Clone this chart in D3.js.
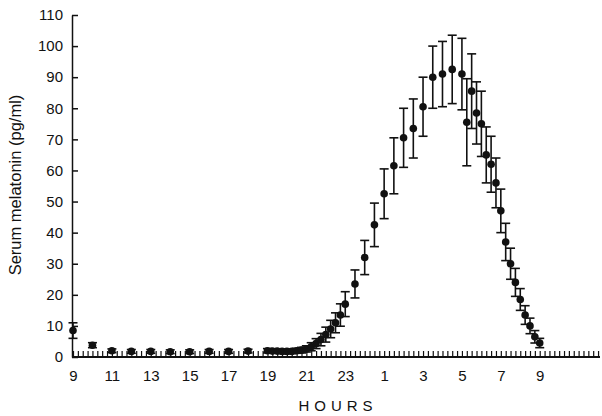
<!DOCTYPE html>
<html>
<head>
<meta charset="utf-8">
<script src="https://cdn.jsdelivr.net/npm/d3@7"></script>
<style>
  body { margin: 0; background: #fff; }
  text { font-family: "Liberation Sans", Arial, sans-serif; fill: #111; }
</style>
</head>
<body>
<div id="chart"></div>
<script>
// hours after 09:00 (day 1) -> 24 = 09:00 next day
const sampleHours = [0, 1, 2, 3, 4, 5, 6, 7, 8, 9,
  10, 10.25, 10.5, 10.75, 11, 11.25, 11.5, 11.75, 12, 12.25, 12.5, 12.75, 13, 13.25, 13.5, 13.75, 14,
  14.5, 15, 15.5, 16, 16.5, 17, 17.5, 18, 18.5, 19, 19.5, 20,
  20.25, 20.5, 20.75, 21, 21.25, 21.5, 21.75, 22, 22.25, 22.5, 22.75, 23, 23.25, 23.5, 23.75, 24];
const meanValues = [8.5, 3.8, 2.0, 1.8, 1.8, 1.7, 1.7, 1.8, 1.8, 1.9,
  2.0, 1.9, 1.9, 1.8, 1.8, 1.8, 2.0, 2.2, 2.6, 3.3, 4.3, 5.6, 7.2, 9.0, 11.0, 13.5, 17.0,
  23.5, 32, 42.5, 52.5, 61.5, 70.5, 73.5, 80.5, 90, 91, 92.5, 91,
  75.5, 85.5, 78.5, 75, 65, 62, 56, 47, 37, 30, 24, 18.5, 13.5, 10, 6.5, 4.5];
const semValues = [2.5, 0.8, 0.6, 0.6, 0.6, 0.6, 0.6, 0.6, 0.6, 0.6,
  0.7, 0.7, 0.7, 0.7, 0.7, 0.7, 0.8, 0.9, 1.0, 1.3, 1.6, 2.0, 2.4, 2.8, 3.2, 3.6, 4.0,
  4.5, 5.5, 7, 8, 9, 9.5, 9.5, 9.5, 10, 10.5, 11, 11.5,
  14, 12, 10, 10.5, 9, 9, 8, 7, 6, 5, 4.5, 3.5, 3, 2.5, 2, 1.5];
const xLabelHours = [0, 2, 4, 6, 8, 10, 12, 14, 16, 18, 20, 22, 24];
const yTickValues = [0, 10, 20, 30, 40, 50, 60, 70, 80, 90, 100, 110];

const W = 602, H = 416;
const svg = d3.select('#chart').append('svg').attr('width', W).attr('height', H);

const x = d3.scaleLinear().domain([0, 27.1]).range([73, 600]);
const y = d3.scaleLinear().domain([0, 110]).range([357, 15]);

// Y axis
const yAxis = svg.append('g')
  .attr('transform', 'translate(72,0)')
  .call(d3.axisLeft(y).tickValues(yTickValues).tickSizeInner(-6).tickSizeOuter(0).tickPadding(9));
yAxis.selectAll('text').style('font-size', '15px');
yAxis.selectAll('line, path').attr('stroke', '#111').attr('stroke-width', 1.5);

// X axis, minor ticks every 15 min
const minorTicks = d3.range(0, 27.01, 0.25);
const xMinor = svg.append('g')
  .attr('transform', 'translate(0,357)')
  .call(d3.axisBottom(x).tickValues(minorTicks).tickSizeInner(-6).tickSizeOuter(0).tickFormat(''));
xMinor.selectAll('line').attr('stroke', '#111').attr('stroke-width', 1.2);
xMinor.select('path').attr('stroke', '#111').attr('stroke-width', 2);
xMinor.select('.domain').attr('d', 'M72,0H600');

// X labels
const xMajor = svg.append('g')
  .attr('transform', 'translate(0,357)')
  .call(d3.axisBottom(x).tickValues(xLabelHours).tickSize(0).tickPadding(13)
    .tickFormat(h => String((9 + h) % 24)));
xMajor.select('.domain').remove();
xMajor.selectAll('text').style('font-size', '15px');

// error bars
const pts = sampleHours.map((h, i) => ({ h, m: meanValues[i], s: semValues[i] }));
const eb = svg.append('g').attr('stroke', '#111').attr('stroke-width', 1.6);
eb.selectAll('.v').data(pts).enter().append('line')
  .attr('x1', d => x(d.h)).attr('x2', d => x(d.h))
  .attr('y1', d => y(Math.max(0, d.m - d.s))).attr('y2', d => y(d.m + d.s));
eb.selectAll('.t').data(pts).enter().append('line')
  .attr('x1', d => x(d.h) - 4.5).attr('x2', d => x(d.h) + 4.5)
  .attr('y1', d => y(d.m + d.s)).attr('y2', d => y(d.m + d.s));
eb.selectAll('.b').data(pts).enter().append('line')
  .attr('x1', d => x(d.h) - 4.5).attr('x2', d => x(d.h) + 4.5)
  .attr('y1', d => y(Math.max(0, d.m - d.s))).attr('y2', d => y(Math.max(0, d.m - d.s)));

// points
svg.append('g').selectAll('circle').data(pts).enter().append('circle')
  .attr('cx', d => x(d.h)).attr('cy', d => y(d.m)).attr('r', 3.8).attr('fill', '#111');

// titles
svg.append('text')
  .attr('transform', 'translate(21,185) rotate(-90)')
  .attr('text-anchor', 'middle')
  .style('font-size', '16.5px')
  .text('Serum melatonin (pg/ml)');

svg.append('text')
  .attr('x', 338).attr('y', 411)
  .attr('text-anchor', 'middle')
  .style('font-size', '15px')
  .style('letter-spacing', '5px')
  .text('HOURS');
</script>
</body>
</html>
